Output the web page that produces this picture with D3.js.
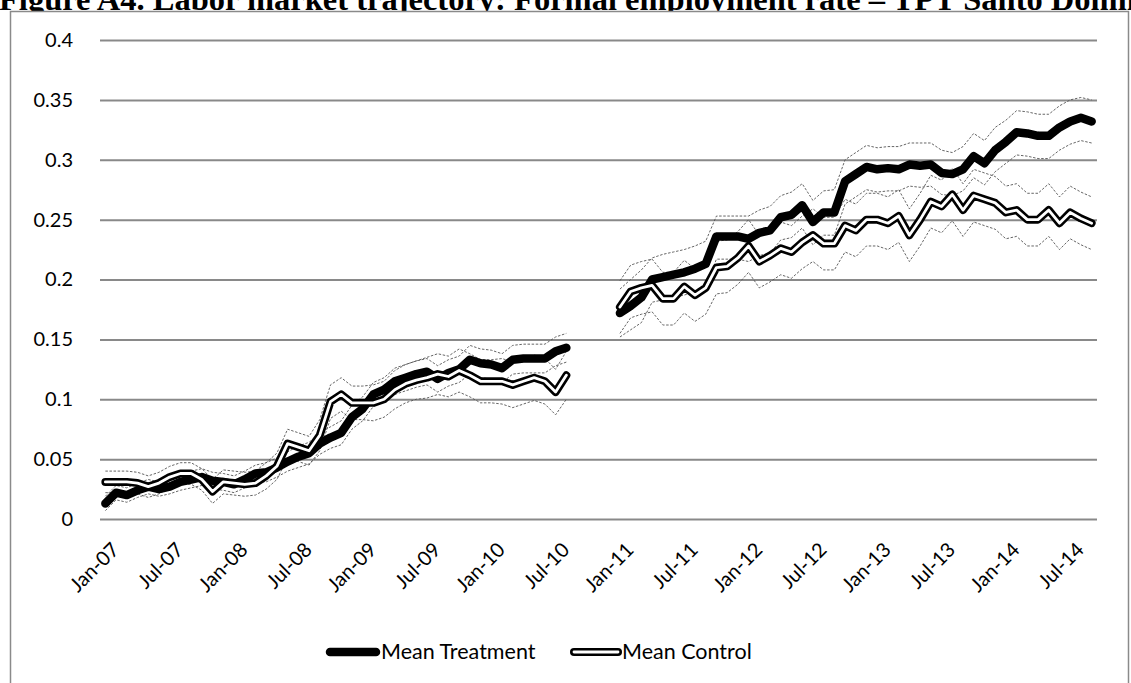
<!DOCTYPE html>
<html><head><meta charset="utf-8">
<script src="https://cdn.jsdelivr.net/npm/d3@7"></script>
<style>
html,body{margin:0;padding:0;background:#fff;overflow:hidden;}
svg{display:block;}
</style></head>
<body>
<svg id="chart" width="1131" height="683"></svg>
<script>
// ---- DATA (monthly, Jan-07 .. Sep-14; null = no data) ----
const startMonth = "2007-01";
const nMonths = 93;
const tickLabels = ["Jan-07","Jul-07","Jan-08","Jul-08","Jan-09","Jul-09","Jan-10","Jul-10","Jan-11","Jul-11","Jan-12","Jul-12","Jan-13","Jul-13","Jan-14","Jul-14"];
const yTicks = [0,0.05,0.1,0.15,0.2,0.25,0.3,0.35,0.4];
const seriesNames = ["Mean Treatment","Mean Control"];

const meanTreatment = [0.013,0.022,0.020,0.024,0.027,0.025,0.027,0.031,0.033,0.035,0.032,0.031,0.029,0.033,0.038,0.039,0.043,0.048,0.052,0.055,0.063,0.068,0.072,0.085,0.092,0.104,0.108,0.115,0.118,0.121,0.123,0.117,0.122,0.125,0.133,0.130,0.129,0.126,0.133,0.134,0.134,0.134,0.140,0.143,
 null,null,null,null,
 0.172,0.178,0.185,0.200,0.202,0.204,0.206,0.209,0.213,0.236,0.236,0.236,0.234,0.239,0.241,0.252,0.254,0.262,0.248,0.256,0.256,0.282,0.288,0.294,0.292,0.293,0.292,0.296,0.295,0.296,0.289,0.288,0.292,0.303,0.297,0.308,0.315,0.323,0.322,0.320,0.320,0.327,0.332,0.335,0.332];

const upperTreatment = [0.019,0.028,0.026,0.030,0.033,0.031,0.033,0.038,0.040,0.042,0.039,0.038,0.036,0.040,0.045,0.047,0.051,0.056,0.061,0.064,0.072,0.077,0.082,0.095,0.102,0.114,0.118,0.126,0.129,0.132,0.134,0.128,0.133,0.136,0.145,0.142,0.141,0.138,0.145,0.146,0.146,0.146,0.152,0.155,
 null,null,null,null,
 0.192,0.200,0.208,0.218,0.221,0.223,0.225,0.228,0.232,0.253,0.253,0.253,0.253,0.258,0.261,0.270,0.273,0.280,0.266,0.274,0.275,0.300,0.306,0.312,0.310,0.311,0.311,0.314,0.314,0.314,0.308,0.306,0.311,0.322,0.316,0.327,0.333,0.341,0.340,0.338,0.338,0.345,0.350,0.352,0.350];

const lowerTreatment = [0.007,0.016,0.014,0.018,0.021,0.019,0.021,0.024,0.026,0.028,0.025,0.024,0.022,0.026,0.031,0.031,0.035,0.040,0.043,0.046,0.054,0.059,0.062,0.075,0.082,0.094,0.098,0.104,0.107,0.110,0.112,0.106,0.111,0.114,0.121,0.118,0.117,0.114,0.121,0.122,0.122,0.122,0.128,0.131,
 null,null,null,null,
 0.152,0.158,0.164,0.181,0.183,0.185,0.187,0.190,0.194,0.217,0.217,0.217,0.215,0.220,0.222,0.233,0.235,0.243,0.229,0.237,0.237,0.263,0.269,0.275,0.273,0.274,0.274,0.278,0.277,0.278,0.271,0.270,0.274,0.285,0.279,0.290,0.297,0.304,0.303,0.301,0.301,0.308,0.313,0.316,0.314];

const meanControl = [0.031,0.031,0.031,0.030,0.027,0.030,0.035,0.038,0.038,0.033,0.023,0.031,0.030,0.029,0.030,0.036,0.044,0.063,0.060,0.057,0.070,0.098,0.104,0.097,0.097,0.097,0.100,0.108,0.113,0.116,0.118,0.121,0.119,0.124,0.120,0.115,0.115,0.115,0.112,0.115,0.118,0.115,0.106,0.120,
 null,null,null,null,
 0.177,0.190,0.193,0.195,0.184,0.184,0.194,0.187,0.193,0.210,0.211,0.218,0.228,0.215,0.220,0.226,0.223,0.231,0.237,0.230,0.230,0.245,0.241,0.250,0.250,0.247,0.253,0.237,0.250,0.265,0.261,0.271,0.258,0.270,0.267,0.264,0.256,0.258,0.250,0.250,0.258,0.247,0.256,0.251,0.247];

const upperControl = [0.040,0.040,0.040,0.039,0.036,0.039,0.044,0.047,0.047,0.042,0.033,0.041,0.040,0.039,0.040,0.047,0.055,0.075,0.072,0.069,0.083,0.112,0.118,0.111,0.111,0.112,0.115,0.124,0.129,0.132,0.135,0.138,0.136,0.142,0.138,0.133,0.133,0.134,0.131,0.134,0.137,0.134,0.125,0.140,
 null,null,null,null,
 0.199,0.212,0.215,0.217,0.206,0.206,0.216,0.209,0.215,0.232,0.233,0.240,0.250,0.237,0.242,0.248,0.245,0.253,0.259,0.252,0.252,0.267,0.263,0.272,0.272,0.269,0.275,0.259,0.272,0.287,0.283,0.293,0.280,0.292,0.289,0.286,0.278,0.280,0.272,0.272,0.280,0.269,0.278,0.273,0.269];

const lowerControl = [0.022,0.022,0.022,0.021,0.018,0.021,0.026,0.029,0.029,0.024,0.013,0.021,0.020,0.019,0.020,0.025,0.033,0.051,0.048,0.045,0.057,0.084,0.090,0.083,0.083,0.082,0.085,0.092,0.097,0.100,0.101,0.104,0.102,0.106,0.102,0.097,0.097,0.096,0.093,0.096,0.099,0.096,0.087,0.100,
 null,null,null,null,
 0.155,0.168,0.171,0.173,0.162,0.162,0.172,0.165,0.171,0.188,0.189,0.196,0.206,0.193,0.198,0.204,0.201,0.209,0.215,0.208,0.208,0.223,0.219,0.228,0.228,0.225,0.231,0.215,0.228,0.243,0.239,0.249,0.236,0.248,0.245,0.242,0.234,0.236,0.228,0.228,0.236,0.225,0.234,0.229,0.225];

// ---- categories (month labels) ----
const fmt = d3.timeFormat("%b-%y");
const t0 = d3.timeParse("%Y-%m")(startMonth);
const categories = d3.range(nMonths).map(i => fmt(d3.timeMonth.offset(t0, i)));

// ---- layout ----
const svg = d3.select("#chart");
const plotLeft = 100, plotRight = 1097, plotTop = 40, plotBottom = 519;
const x = d3.scaleBand().domain(categories).range([plotLeft, plotRight]).padding(0);
const xc = c => x(c) + x.bandwidth()/2;
const y = d3.scaleLinear().domain([0, 0.4]).range([plotBottom, plotTop]);

const FONT = "Lato, 'Open Sans', sans-serif";

// title (clipped by the page edges, as in the original)
svg.append("text").attr("x", -1).attr("y", 10)
  .attr("font-family", "'Liberation Serif','Times New Roman',serif")
  .attr("font-weight", "bold").attr("font-size", 32.5)
  .text("Figure A4. Labor market trajectory: Formal employment rate – TPT Santo Domingo");

// chart border
svg.append("rect").attr("x", 10.5).attr("y", 11.5).attr("width", 1118).attr("height", 700)
  .attr("fill", "#fff").attr("stroke", "#8a8a8a").attr("stroke-width", 1.5);

// gridlines + y labels
const yAxis = d3.axisLeft(y).tickValues(yTicks).tickSize(-(plotRight - plotLeft)).tickPadding(27)
  .tickFormat(d => d === 0 ? "0" : String(+d.toFixed(2)));
const gy = svg.append("g").attr("transform", `translate(${plotLeft},0)`).call(yAxis);
gy.select(".domain").remove();
gy.selectAll(".tick line").attr("stroke", "#898989").attr("stroke-width", 2);
gy.selectAll(".tick text").attr("font-family", FONT).attr("font-size", 20).attr("fill", "#000");

// x labels
const xAxis = d3.axisBottom(x).tickValues(tickLabels).tickSize(0).tickPadding(0);
const gx = svg.append("g").attr("transform", `translate(0,${plotBottom})`).call(xAxis);
gx.select(".domain").remove();
gx.selectAll(".tick text")
  .attr("font-family", FONT).attr("font-size", 20).attr("fill", "#000")
  .attr("text-anchor", "end")
  .attr("dy", 0)
  .attr("transform", "translate(15,32) rotate(-45)");

// line generator
const line = d3.line().defined(d => d.v !== null).x(d => xc(d.c)).y(d => y(d.v));
const toPts = arr => arr.map((v, i) => ({c: categories[i], v}));

// CI dotted lines
[upperTreatment, lowerTreatment, upperControl, lowerControl].forEach(arr => {
  svg.append("path").attr("d", line(toPts(arr)))
    .attr("fill", "none").attr("stroke", "#555").attr("stroke-width", 0.9)
    .attr("stroke-dasharray", "2.5,1.6");
});

// treatment
svg.append("path").attr("d", line(toPts(meanTreatment)))
  .attr("fill", "none").attr("stroke", "#000").attr("stroke-width", 8.5)
  .attr("stroke-linejoin", "round").attr("stroke-linecap", "round");

// control (double line)
svg.append("path").attr("d", line(toPts(meanControl)))
  .attr("fill", "none").attr("stroke", "#000").attr("stroke-width", 8)
  .attr("stroke-linejoin", "round").attr("stroke-linecap", "round");
svg.append("path").attr("d", line(toPts(meanControl)))
  .attr("fill", "none").attr("stroke", "#fff").attr("stroke-width", 2.8)
  .attr("stroke-linejoin", "round").attr("stroke-linecap", "round");

// legend
const lg = svg.append("g");
const legY = 652;
lg.append("line").attr("x1", 330).attr("x2", 376).attr("y1", legY).attr("y2", legY)
  .attr("stroke", "#000").attr("stroke-width", 8.5).attr("stroke-linecap", "round");
lg.append("text").attr("x", 381).attr("y", legY + 7).attr("font-family", FONT).attr("font-size", 21.5)
  .text(seriesNames[0]);
lg.append("line").attr("x1", 574).attr("x2", 618).attr("y1", legY).attr("y2", legY)
  .attr("stroke", "#000").attr("stroke-width", 8).attr("stroke-linecap", "round");
lg.append("line").attr("x1", 574).attr("x2", 618).attr("y1", legY).attr("y2", legY)
  .attr("stroke", "#fff").attr("stroke-width", 2.8).attr("stroke-linecap", "round");
lg.append("text").attr("x", 622).attr("y", legY + 7).attr("font-family", FONT).attr("font-size", 21.5)
  .text(seriesNames[1]);
</script>
</body></html>
